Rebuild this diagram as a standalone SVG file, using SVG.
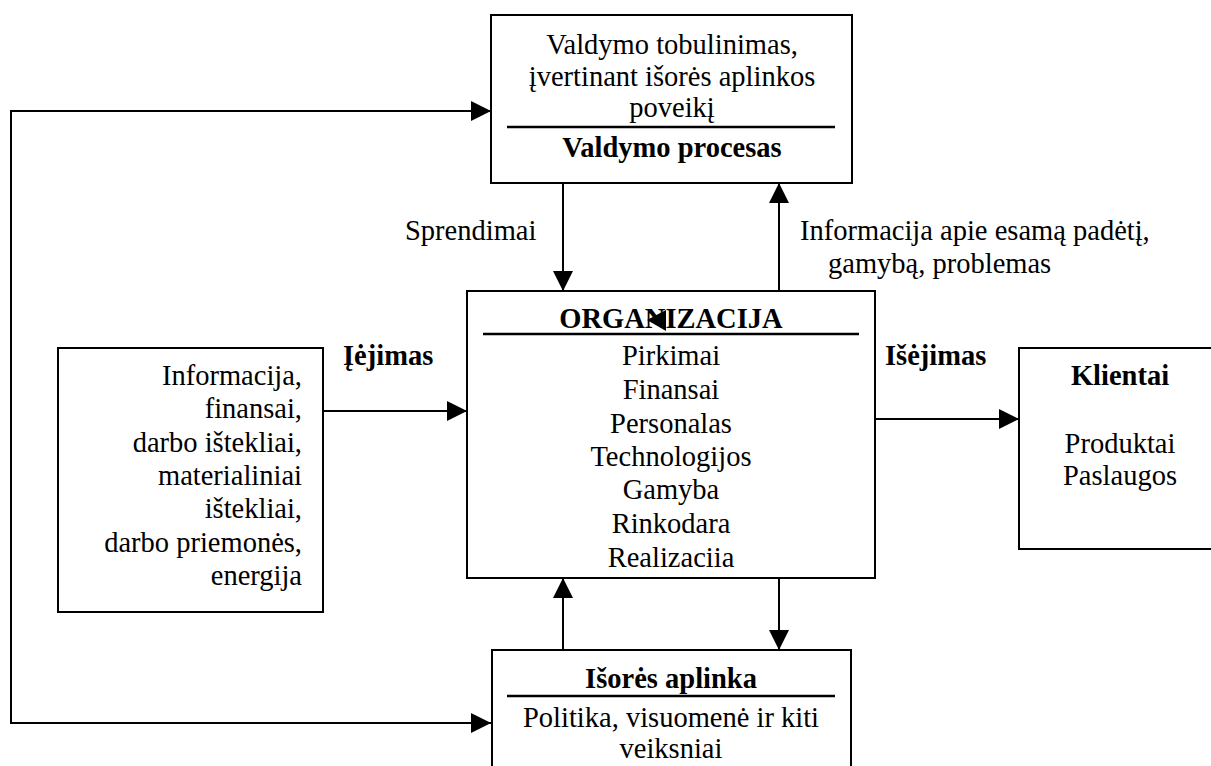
<svg xmlns="http://www.w3.org/2000/svg" width="1211" height="766" viewBox="0 0 1211 766">
<defs>
<marker id="arr" markerUnits="userSpaceOnUse" markerWidth="20" markerHeight="20" refX="20" refY="10" orient="auto">
<path d="M0,0 L20,10 L0,20 z" fill="#000"/>
</marker>
<marker id="arrs" markerUnits="userSpaceOnUse" markerWidth="20" markerHeight="20" refX="20" refY="10" orient="auto-start-reverse">
<path d="M0,0 L20,10 L0,20 z" fill="#000"/>
</marker>
<style>
.box{fill:#fff;stroke:#000;stroke-width:2}
.sep{stroke:#000;stroke-width:2.5}
.ln{fill:none;stroke:#000;stroke-width:2}
text{font-family:"Liberation Serif","Times New Roman",serif;font-size:28.5px;fill:#000}
.b{font-weight:bold}
.c{text-anchor:middle}
.r{text-anchor:end}
</style>
</defs>
<rect width="1211" height="766" fill="#fff"/>
<g id="connectors">
<polyline class="ln" points="491,111 11,111 11,723 491,723" marker-start="url(#arrs)" marker-end="url(#arr)"/>
<line class="ln" x1="563" y1="183" x2="563" y2="291" marker-end="url(#arr)"/>
<line class="ln" x1="779" y1="291" x2="779" y2="183" marker-end="url(#arr)"/>
<line class="ln" x1="323" y1="411" x2="467" y2="411" marker-end="url(#arr)"/>
<line class="ln" x1="875" y1="419" x2="1019" y2="419" marker-end="url(#arr)"/>
<line class="ln" x1="563" y1="650" x2="563" y2="578" marker-end="url(#arr)"/>
<line class="ln" x1="779" y1="578" x2="779" y2="650" marker-end="url(#arr)"/>
<text x="405" y="240">Sprendimai</text>
<text x="800" y="240">Informacija apie esamą padėtį,</text>
<text x="828" y="273">gamybą, problemas</text>
<text class="b" x="343" y="365">Įėjimas</text>
<text class="b" x="885" y="365">Išėjimas</text>
</g>
<g id="valdymas">
<rect class="box" x="491" y="15" width="361" height="168"/>
<line class="sep" x1="507" y1="127" x2="835" y2="127"/>
<text class="c" x="672" y="54">Valdymo tobulinimas,</text>
<text class="c" x="672" y="86">įvertinant išorės aplinkos</text>
<text class="c" x="672" y="117">poveikį</text>
<text class="c b" x="672" y="157">Valdymo procesas</text>
</g>
<g id="organizacija">
<rect class="box" x="467" y="291" width="408" height="287"/>
<line class="sep" x1="483" y1="334" x2="859" y2="334"/>
<text class="c b" x="671" y="328">ORGANIZACIJA</text>
<polygon points="647,320 666,310 666,331" fill="#000"/>
<text class="c" x="671" y="365">Pirkimai</text>
<text class="c" x="671" y="399">Finansai</text>
<text class="c" x="671" y="433">Personalas</text>
<text class="c" x="671" y="466">Technologijos</text>
<text class="c" x="671" y="499">Gamyba</text>
<text class="c" x="671" y="533">Rinkodara</text>
<text class="c" x="671" y="567">Realizaciia</text>
</g>
<g id="ieigos">
<rect class="box" x="58" y="348" width="265" height="264"/>
<text class="r" x="302" y="385">Informacija,</text>
<text class="r" x="302" y="418">finansai,</text>
<text class="r" x="302" y="452">darbo ištekliai,</text>
<text class="r" x="302" y="485">materialiniai</text>
<text class="r" x="302" y="518">ištekliai,</text>
<text class="r" x="302" y="552">darbo priemonės,</text>
<text class="r" x="302" y="585">energija</text>
</g>
<g id="klientai">
<rect class="box" x="1019" y="348" width="203" height="201"/>
<text class="c b" x="1120" y="385">Klientai</text>
<text class="c" x="1120" y="453">Produktai</text>
<text class="c" x="1120" y="485">Paslaugos</text>
</g>
<g id="aplinka">
<rect class="box" x="492" y="650" width="359" height="130"/>
<line class="sep" x1="507" y1="696" x2="835" y2="696"/>
<text class="c b" x="671" y="688">Išorės aplinka</text>
<text class="c" x="671" y="727">Politika, visuomenė ir kiti</text>
<text class="c" x="671" y="758">veiksniai</text>
</g>
</svg>
